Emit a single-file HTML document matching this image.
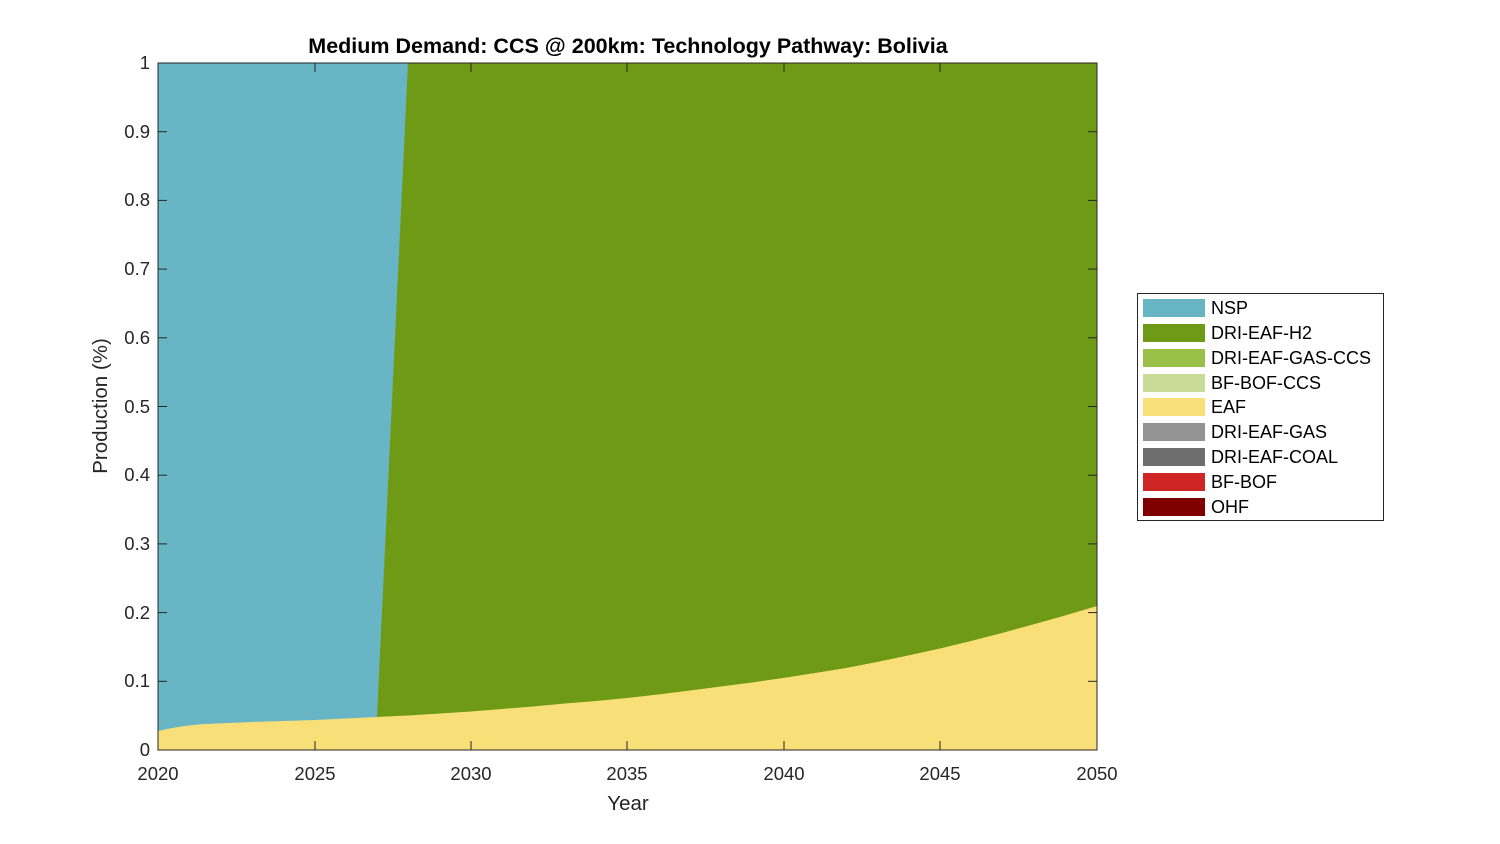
<!DOCTYPE html>
<html><head><meta charset="utf-8"><style>
body{margin:0;background:#fff;}
svg{display:block;font-family:"Liberation Sans",Arial,sans-serif;}
</style></head><body>
<svg width="1500" height="844" viewBox="0 0 1500 844" xmlns="http://www.w3.org/2000/svg">
<rect width="1500" height="844" fill="#fff"/>
<rect x="158" y="63" width="939" height="687" fill="#6f9a16"/>
<polygon points="158,63 408,63 377,717 377,750 158,750" fill="#68b5c5"/>
<path d="M158,731 C175,727 190,725 205,724 L252,722 L283,721 L315,720 L346,718.5 L377,717 L408,715.5 L440,713.5 L471,711.5 L502,709 L533,706.5 L565,703.5 L596,701 L627,698 L658,694.5 L690,690.5 L721,686.5 L752,682.5 L783,678 L815,673 L846,668 L877,662 L908,655.5 L940,648.5 L971,641 L1002,633 L1033,624.5 L1065,615.5 L1097,606 L1097,750 L158,750 Z" fill="#f8df78"/>
<rect x="158" y="63" width="939" height="687" fill="none" stroke="#262626" stroke-width="1"/>
<g stroke="#262626" stroke-width="1">
<line x1="158" y1="750" x2="158" y2="741"/><line x1="315" y1="750" x2="315" y2="741"/><line x1="471" y1="750" x2="471" y2="741"/><line x1="627" y1="750" x2="627" y2="741"/><line x1="784" y1="750" x2="784" y2="741"/><line x1="940" y1="750" x2="940" y2="741"/><line x1="1097" y1="750" x2="1097" y2="741"/>
<line x1="158" y1="63" x2="158" y2="72"/><line x1="315" y1="63" x2="315" y2="72"/><line x1="471" y1="63" x2="471" y2="72"/><line x1="627" y1="63" x2="627" y2="72"/><line x1="784" y1="63" x2="784" y2="72"/><line x1="940" y1="63" x2="940" y2="72"/><line x1="1097" y1="63" x2="1097" y2="72"/>
</g>
<g stroke="#262626" stroke-width="1">
<line x1="158" y1="750" x2="167" y2="750"/><line x1="158" y1="681.3" x2="167" y2="681.3"/><line x1="158" y1="612.6" x2="167" y2="612.6"/><line x1="158" y1="543.9" x2="167" y2="543.9"/><line x1="158" y1="475.2" x2="167" y2="475.2"/><line x1="158" y1="406.5" x2="167" y2="406.5"/><line x1="158" y1="337.8" x2="167" y2="337.8"/><line x1="158" y1="269.1" x2="167" y2="269.1"/><line x1="158" y1="200.4" x2="167" y2="200.4"/><line x1="158" y1="131.7" x2="167" y2="131.7"/>
<line x1="1097" y1="681.3" x2="1088" y2="681.3"/><line x1="1097" y1="612.6" x2="1088" y2="612.6"/><line x1="1097" y1="543.9" x2="1088" y2="543.9"/><line x1="1097" y1="475.2" x2="1088" y2="475.2"/><line x1="1097" y1="406.5" x2="1088" y2="406.5"/><line x1="1097" y1="337.8" x2="1088" y2="337.8"/><line x1="1097" y1="269.1" x2="1088" y2="269.1"/><line x1="1097" y1="200.4" x2="1088" y2="200.4"/><line x1="1097" y1="131.7" x2="1088" y2="131.7"/>
</g>
<g font-size="18.5" fill="#262626" text-anchor="middle">
<text x="158" y="780">2020</text><text x="315" y="780">2025</text><text x="471" y="780">2030</text><text x="627" y="780">2035</text><text x="784" y="780">2040</text><text x="940" y="780">2045</text><text x="1097" y="780">2050</text>
</g>
<g font-size="18.5" fill="#262626" text-anchor="end">
<text x="150" y="756">0</text><text x="150" y="687">0.1</text><text x="150" y="619">0.2</text><text x="150" y="550">0.3</text><text x="150" y="481">0.4</text><text x="150" y="413">0.5</text><text x="150" y="344">0.6</text><text x="150" y="275">0.7</text><text x="150" y="206">0.8</text><text x="150" y="138">0.9</text><text x="150" y="69">1</text>
</g>
<text x="628" y="810" font-size="20.5" fill="#262626" text-anchor="middle">Year</text>
<text transform="translate(107,406) rotate(-90)" font-size="20.5" fill="#262626" text-anchor="middle">Production (%)</text>
<text x="628" y="53" font-size="21.5" font-weight="bold" fill="#000" text-anchor="middle">Medium Demand: CCS @ 200km: Technology Pathway: Bolivia</text>
<rect x="1137.5" y="293.5" width="246" height="227" fill="#fff" stroke="#262626"/>
<g font-size="18" fill="#000">
<rect x="1143" y="299" width="62" height="18" fill="#68b5c5"/><text x="1211" y="314">NSP</text>
<rect x="1143" y="324" width="62" height="18" fill="#6f9a16"/><text x="1211" y="339">DRI-EAF-H2</text>
<rect x="1143" y="349" width="62" height="18" fill="#9bc04a"/><text x="1211" y="364">DRI-EAF-GAS-CCS</text>
<rect x="1143" y="374" width="62" height="18" fill="#c8dc98"/><text x="1211" y="389">BF-BOF-CCS</text>
<rect x="1143" y="398" width="62" height="18" fill="#f8df78"/><text x="1211" y="413">EAF</text>
<rect x="1143" y="423" width="62" height="18" fill="#939393"/><text x="1211" y="438">DRI-EAF-GAS</text>
<rect x="1143" y="448" width="62" height="18" fill="#6e6e6e"/><text x="1211" y="463">DRI-EAF-COAL</text>
<rect x="1143" y="473" width="62" height="18" fill="#d02525"/><text x="1211" y="488">BF-BOF</text>
<rect x="1143" y="498" width="62" height="18" fill="#800000"/><text x="1211" y="513">OHF</text>
</g>
</svg>
</body></html>
